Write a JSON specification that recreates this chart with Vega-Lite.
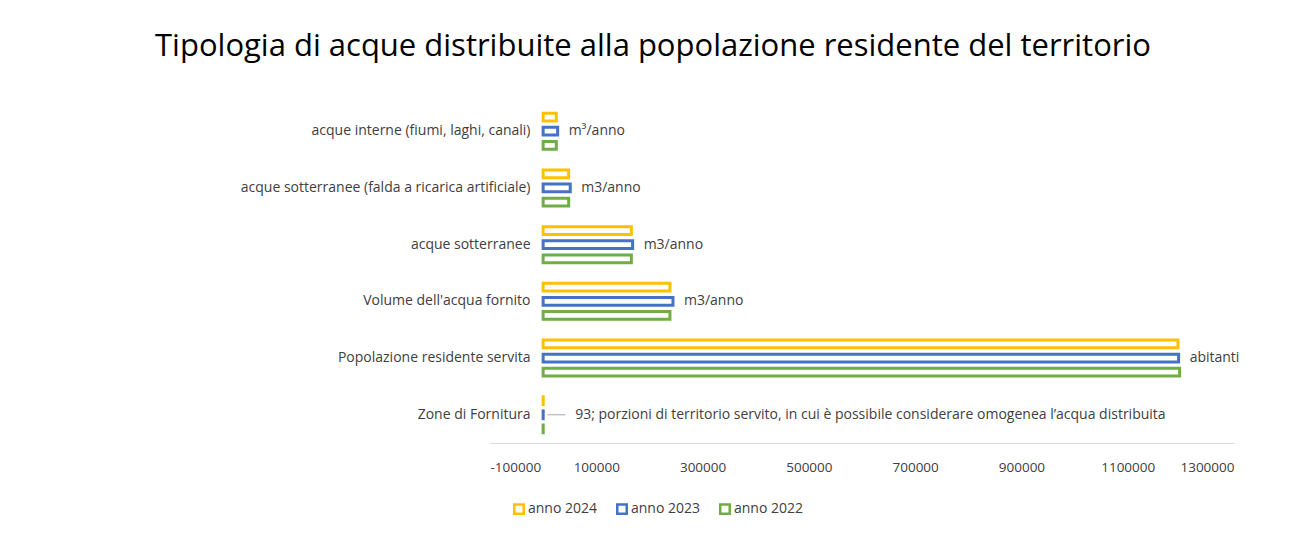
{
  "$schema": "https://vega.github.io/schema/vega-lite/v6.json",
  "width": 744,
  "height": 340,
  "autosize": "none",
  "padding": {"left": 490, "top": 103, "right": 73, "bottom": 100},
  "background": "white",
  "title": {
    "text": "Tipologia di acque distribuite alla popolazione residente del territorio",
    "anchor": "middle",
    "frame": "group",
    "dx": -209,
    "offset": 40,
    "fontSize": 31,
    "font": "Open Sans",
    "fontWeight": "normal",
    "color": "#000000"
  },
  "config": {
    "view": {"stroke": null},
    "font": "Open Sans"
  },
  "data": {
    "values": [
      {"cat": "acque interne (fiumi, laghi, canali)", "year": "anno 2024", "value": 24800, "label": "m³/anno"},
      {"cat": "acque interne (fiumi, laghi, canali)", "year": "anno 2023", "value": 27300, "label": "m³/anno"},
      {"cat": "acque interne (fiumi, laghi, canali)", "year": "anno 2022", "value": 24800, "label": "m³/anno"},
      {"cat": "acque sotterranee (falda a ricarica artificiale)", "year": "anno 2024", "value": 48000, "label": "m3/anno"},
      {"cat": "acque sotterranee (falda a ricarica artificiale)", "year": "anno 2023", "value": 51000, "label": "m3/anno"},
      {"cat": "acque sotterranee (falda a ricarica artificiale)", "year": "anno 2022", "value": 48000, "label": "m3/anno"},
      {"cat": "acque sotterranee", "year": "anno 2024", "value": 166000, "label": "m3/anno"},
      {"cat": "acque sotterranee", "year": "anno 2023", "value": 168400, "label": "m3/anno"},
      {"cat": "acque sotterranee", "year": "anno 2022", "value": 166000, "label": "m3/anno"},
      {"cat": "Volume dell'acqua fornito", "year": "anno 2024", "value": 238600, "label": "m3/anno"},
      {"cat": "Volume dell'acqua fornito", "year": "anno 2023", "value": 244300, "label": "m3/anno"},
      {"cat": "Volume dell'acqua fornito", "year": "anno 2022", "value": 238600, "label": "m3/anno"},
      {"cat": "Popolazione residente servita", "year": "anno 2024", "value": 1194500, "label": "abitanti"},
      {"cat": "Popolazione residente servita", "year": "anno 2023", "value": 1195800, "label": "abitanti"},
      {"cat": "Popolazione residente servita", "year": "anno 2022", "value": 1197700, "label": "abitanti"},
      {"cat": "Zone di Fornitura", "year": "anno 2024", "value": 93, "label": "93; porzioni di territorio servito, in cui è possibile considerare omogenea l’acqua distribuita"},
      {"cat": "Zone di Fornitura", "year": "anno 2023", "value": 93, "label": "93; porzioni di territorio servito, in cui è possibile considerare omogenea l’acqua distribuita"},
      {"cat": "Zone di Fornitura", "year": "anno 2022", "value": 93, "label": "93; porzioni di territorio servito, in cui è possibile considerare omogenea l’acqua distribuita"}
    ]
  },
  "encoding": {
    "y": {
      "field": "cat",
      "type": "nominal",
      "sort": [
        "acque interne (fiumi, laghi, canali)",
        "acque sotterranee (falda a ricarica artificiale)",
        "acque sotterranee",
        "Volume dell'acqua fornito",
        "Popolazione residente servita",
        "Zone di Fornitura"
      ],
      "scale": {"paddingInner": 0.365, "paddingOuter": 0.18},
      "axis": {
        "title": null,
        "domain": false,
        "ticks": false,
        "offset": -53,
        "labelPadding": 13,
        "labelFontSize": 14,
        "labelColor": "#404040",
        "labelLimit": 400
      }
    }
  },
  "layer": [
    {
      "mark": {"type": "bar", "fill": "white", "strokeWidth": 3},
      "encoding": {
        "x": {
          "field": "value",
          "type": "quantitative",
          "scale": {"domain": [-100000, 1300000], "nice": false},
          "axis": {
            "title": null,
            "values": [-100000, 100000, 300000, 500000, 700000, 900000, 1100000, 1300000],
            "labelExpr": "'' + datum.value",
            "grid": false,
            "ticks": false,
            "domainColor": "#d9d9d9",
            "labelFontSize": 13.5,
            "labelColor": "#404040",
            "labelPadding": 17
          }
        },
        "yOffset": {
          "field": "year",
          "type": "nominal",
          "scale": {"domain": ["anno 2024", "anno 2023", "anno 2022"], "paddingInner": 0.45}
        },
        "stroke": {
          "field": "year",
          "type": "nominal",
          "scale": {"domain": ["anno 2024", "anno 2023", "anno 2022"], "range": ["#FFC000", "#4472C4", "#70AD47"]},
          "legend": {
            "title": null,
            "orient": "none",
            "direction": "horizontal",
            "legendX": 22,
            "legendY": 399,
            "symbolType": "square",
            "symbolFillColor": "white",
            "symbolStrokeWidth": 2.5,
            "symbolSize": 90,
            "labelFontSize": 14,
            "labelColor": "#404040",
            "labelOffset": 2,
            "columnPadding": 14
          }
        }
      }
    },
    {
      "transform": [{"filter": "datum.year == 'anno 2023' && datum.cat != 'Zone di Fornitura'"}],
      "mark": {"type": "text", "align": "left", "baseline": "middle", "dx": 11, "fontSize": 14, "color": "#404040"},
      "encoding": {
        "x": {"field": "value", "type": "quantitative"},
        "text": {"field": "label"}
      }
    },
    {
      "transform": [{"filter": "datum.year == 'anno 2023' && datum.cat == 'Zone di Fornitura'"}],
      "mark": {"type": "text", "align": "left", "baseline": "middle", "dx": 32, "fontSize": 14, "color": "#404040"},
      "encoding": {
        "x": {"field": "value", "type": "quantitative"},
        "text": {"field": "label"}
      }
    },
    {
      "transform": [{"filter": "datum.year == 'anno 2023' && datum.cat == 'Zone di Fornitura'"}],
      "mark": {"type": "rule", "color": "#a6a6a6", "strokeWidth": 1},
      "encoding": {
        "x": {"datum": 8000},
        "x2": {"datum": 42000}
      }
    }
  ]
}
